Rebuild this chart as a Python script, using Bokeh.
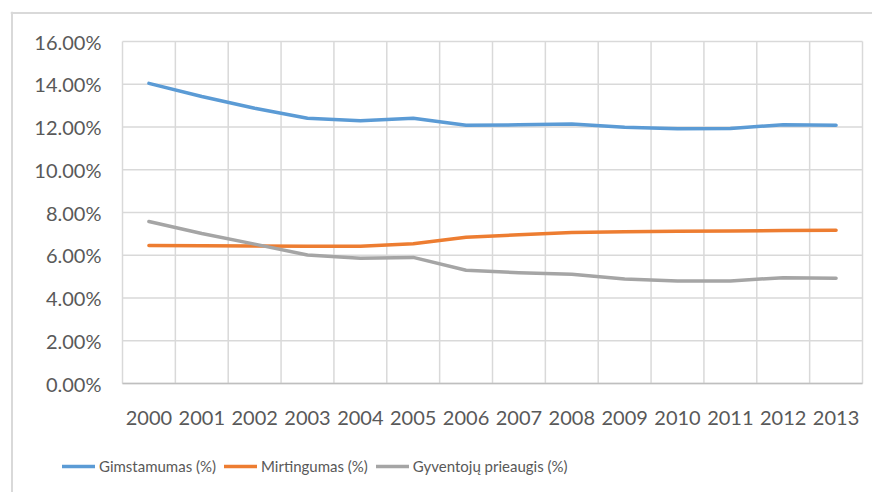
from bokeh.plotting import figure
from bokeh.models import FixedTicker, Legend, LegendItem, Range1d, Span
from bokeh.embed import file_html
from bokeh.resources import INLINE

years = ["2000", "2001", "2002", "2003", "2004", "2005", "2006",
         "2007", "2008", "2009", "2010", "2011", "2012", "2013"]
gimstamumas = [14.04, 13.43, 12.88, 12.41, 12.29, 12.41, 12.08,
               12.10, 12.14, 11.99, 11.92, 11.93, 12.11, 12.08]
mirtingumas = [6.46, 6.45, 6.43, 6.42, 6.42, 6.54, 6.84,
               6.96, 7.07, 7.10, 7.12, 7.13, 7.16, 7.17]
prieaugis = [7.58, 7.02, 6.52, 6.01, 5.86, 5.90, 5.30,
             5.18, 5.11, 4.89, 4.80, 4.80, 4.95, 4.92]
series_names = ["Gimstamumas (%)", "Mirtingumas (%)", "Gyventojų prieaugis (%)"]
colors = ["#5B9BD5", "#ED7D31", "#A5A5A5"]
y_ticks = [0, 2, 4, 6, 8, 10, 12, 14, 16]

FONT = "Lato"
TXT = "#595959"
GRID = "#d9d9d9"

n = len(years)
xs = list(range(n))
x_lo, x_hi = -0.5, n - 0.5
y_lo, y_hi = y_ticks[0], y_ticks[-1]

# layout geometry (pixels inside the canvas)
W, H = 872, 492
FL, FT = 10, 11               # frame left / top offset in canvas
PLOT_L, PLOT_R = 122, 862     # plot area edges (canvas px)
PLOT_T, PLOT_B = 41, 383
kx = (PLOT_R - PLOT_L) / (x_hi - x_lo)
ky = (PLOT_B - PLOT_T) / (y_hi - y_lo)
x_start = x_lo - (PLOT_L - FL) / kx
x_end = x_hi + (W - PLOT_R) / kx
y_end = y_hi + (PLOT_T - FT) / ky
y_start = y_lo - (H - PLOT_B) / ky

p = figure(width=W, height=H, output_backend="svg", toolbar_location=None,
           x_range=Range1d(x_start, x_end), y_range=Range1d(y_start, y_end),
           min_border_left=FL, min_border_right=0, min_border_top=FT,
           min_border_bottom=0)
p.outline_line_color = None
p.background_fill_color = "white"
p.border_fill_color = "white"
p.xgrid.visible = False
p.ygrid.visible = False

# chart-area border (top and left edges visible)
p.add_layout(Span(location=x_start + 1.5 / kx, dimension="height",
                  line_color=GRID, line_width=2))
p.add_layout(Span(location=y_end - 1.5 / ky, dimension="width",
                  line_color=GRID, line_width=2))

# gridlines limited to the plot area
vb = [x_lo + i for i in range(n + 1)]
p.segment(x0=vb, y0=[y_lo] * len(vb), x1=vb, y1=[y_hi] * len(vb),
          line_color=GRID, line_width=1.5)
p.segment(x0=[x_lo] * len(y_ticks), y0=y_ticks, x1=[x_hi] * len(y_ticks), y1=y_ticks,
          line_color=GRID, line_width=1.5)

# x axis
p.xaxis.fixed_location = y_lo
p.xaxis.bounds = (x_lo, x_hi)
p.xaxis.ticker = FixedTicker(ticks=xs)
p.xaxis.major_label_overrides = {i: y for i, y in enumerate(years)}
p.xaxis.axis_line_color = "#bfbfbf"
p.xaxis.axis_line_width = 1.5
p.xaxis.major_tick_line_color = None
p.xaxis.minor_tick_line_color = None
p.xaxis.major_tick_out = 0
p.xaxis.major_tick_in = 0
p.xaxis.major_label_standoff = 27
p.xaxis.major_label_text_font = FONT
p.xaxis.major_label_text_font_size = "20px"
p.xaxis.major_label_text_color = TXT

# y axis
p.yaxis.fixed_location = x_lo
p.yaxis.bounds = (y_lo, y_hi)
p.yaxis.ticker = FixedTicker(ticks=y_ticks)
p.yaxis.major_label_overrides = {t: f"{t:.2f}%" for t in y_ticks}
p.yaxis.axis_line_color = None
p.yaxis.major_tick_line_color = None
p.yaxis.minor_tick_line_color = None
p.yaxis.major_tick_out = 0
p.yaxis.major_tick_in = 0
p.yaxis.major_label_standoff = 21
p.yaxis.major_label_text_font = FONT
p.yaxis.major_label_text_font_size = "20px"
p.yaxis.major_label_text_color = TXT

items = []
for name, vals, c in zip(series_names, [gimstamumas, mirtingumas, prieaugis], colors):
    r = p.line(xs, vals, line_color=c, line_width=3.5, line_join="round", line_cap="round")
    items.append(LegendItem(label=name, renderers=[r]))

legend = Legend(items=items, orientation="horizontal", location=(52, 16),
                label_text_font=FONT, label_text_font_size="15px",
                label_text_color=TXT, glyph_width=33, glyph_height=20,
                label_height=20, label_standoff=4, spacing=8, padding=0,
                margin=0, border_line_color=None, background_fill_alpha=0)
p.add_layout(legend, "center")

open("out.html", "w").write(file_html(p, INLINE))
